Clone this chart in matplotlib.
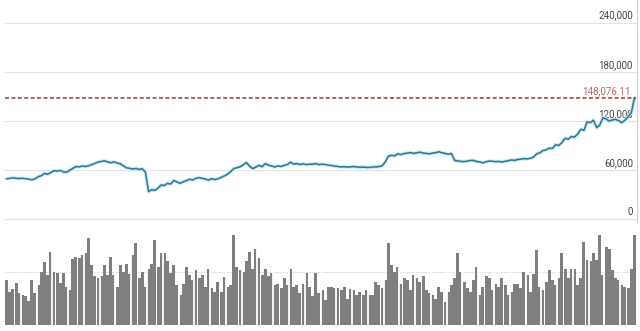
import matplotlib
matplotlib.use("Agg")
import matplotlib.pyplot as plt
import numpy as np

# ---- data ----
price_k = [
    49.6, 50.1, 50.8, 50.2, 49.9, 50.3, 49.8, 49.2, 48.4, 49.5,
    52.0, 53.4, 56.0, 55.2, 57.1, 59.5, 58.9, 59.8, 58.0, 57.6,
    60.0, 62.3, 64.5, 64.0, 65.1, 64.6, 65.5, 66.8, 68.4, 70.0,
    70.6, 71.5, 70.2, 69.0, 70.3, 68.9, 68.0, 65.4, 63.0, 62.4,
    61.5, 62.2, 61.0, 61.8, 58.0, 34.0, 36.2, 35.5, 38.4, 42.0,
    41.5, 44.0, 43.2, 47.5, 45.8, 44.0, 46.0, 47.3, 49.0, 48.2,
    50.1, 51.0, 50.2, 49.3, 48.0, 49.6, 48.8, 49.5, 51.2, 53.0,
    55.0, 58.3, 62.0, 63.0, 64.2, 66.5, 69.5, 65.0, 62.0, 63.8,
    66.0, 64.3, 68.0, 66.2, 65.1, 64.0, 65.3, 64.6, 66.0, 67.0,
    69.8, 67.5, 68.1, 67.0, 67.8, 66.9, 67.4, 67.5, 68.0, 66.8,
    67.3, 67.0, 66.2, 65.8, 65.0, 64.6, 64.0, 64.4, 63.8, 64.2,
    64.5, 64.0, 63.6, 63.9, 63.4, 63.5, 63.8, 64.2, 64.5, 65.3,
    70.0, 77.0, 78.2, 77.5, 80.0, 79.1, 80.3, 80.8, 81.5, 80.6,
    81.2, 82.0, 81.0, 80.5, 80.0, 80.9, 81.4, 82.5, 81.3, 80.6,
    79.5, 80.5, 72.0, 71.4, 70.8, 70.5, 71.2, 71.9, 72.0, 70.6,
    70.1, 69.0, 70.3, 71.2, 71.0, 70.4, 70.8, 70.0, 70.9, 71.6,
    72.5, 72.0, 73.1, 73.5, 74.2, 73.8, 74.5, 76.0, 80.0, 81.2,
    84.0, 84.8, 87.0, 86.5, 91.0, 90.2, 93.5, 99.0, 97.8, 101.0,
    100.5, 104.0, 110.0, 108.5, 119.0, 118.0, 121.0, 112.0, 115.0, 124.0,
    122.5, 120.0, 121.3, 122.0, 120.5, 118.0, 121.0, 125.0, 130.0, 148.07611,
]

volume = [
    42, 31, 34, 40, 30,   28, 27, 23, 42, 30,   38, 50, 59, 47, 69,   50, 49, 40, 49, 36,
    33, 62, 64, 63, 66,   68, 82, 57, 46, 44,   46, 57, 47, 64, 47,   36, 57, 50, 58, 48,
    66, 77, 44, 50, 36,   53, 58, 80, 55, 68,   68, 60, 49, 57, 38,   28, 39, 55, 47, 42,
    52, 44, 47, 36, 53,   35, 31, 41, 31, 45,   36, 38, 85, 55, 52,   50, 60, 69, 53, 72,
    63, 47, 53, 46, 49,   38, 39, 35, 44, 38,   53, 36, 38, 30, 39,   49, 36, 27, 49, 30,
    33, 24, 36, 36, 35,   35, 33, 36, 25, 34,   33, 28, 31, 28, 33,   28, 28, 41, 38, 35,
    42, 77, 57, 50, 55,   39, 44, 42, 33, 47,   44, 41, 46, 33, 30,   28, 25, 36, 31, 22,
    31, 38, 44, 68, 50,   41, 35, 31, 42, 55,   28, 36, 46, 44, 33,   39, 36, 44, 38, 28,
    31, 39, 39, 35, 50,   47, 31, 48, 71, 36,   33, 41, 52, 42, 38,   44, 68, 53, 44, 53,
    53, 38, 44, 78, 61,   60, 68, 61, 85, 47,   74, 72, 52, 44, 42,   38, 36, 35, 53, 85,
]

price_ticks = [0, 60000, 120000, 180000, 240000]
price_tick_labels = ["0", "60,000", "120,000", "180,000", "240,000"]
ref_value = 148076.11
ref_label = "148,076.11"
vol_grid = [50]

# ---- figure ----
W, H = 640, 331
fig = plt.figure(figsize=(W / 100, H / 100), dpi=100)
plt.rcParams["font.family"] = ["Roboto", "DejaVu Sans"]

x0, x1 = 5, 636
def fx(px):
    return px / W
def fy(py):
    return 1 - py / H

ax = fig.add_axes([fx(x0), fy(222), fx(x1 - x0), 222 / H])
axv = fig.add_axes([fx(x0), fy(325), fx(x1 - x0), (325 - 222) / H])

n = len(price_k)
idx = np.arange(n)
price = np.array(price_k) * 1000.0

for a in (ax, axv):
    a.set_xlim(-0.5, n - 0.5)
    for s in a.spines.values():
        s.set_visible(False)
    a.set_xticks([])
    a.set_yticks([])
    a.patch.set_alpha(0)

ax.set_ylim(-3046, 267417)

for v, lab in zip(price_ticks, price_tick_labels):
    ax.axhline(v, color="#e3e3e3", lw=0.8, zorder=1, clip_on=False)
    ax.annotate(lab, xy=(0.9952, v), xycoords=("axes fraction", "data"),
                xytext=(0, 2), textcoords="offset pixels",
                ha="right", va="bottom", fontsize=7, color="#444444", zorder=2)

ax.plot(idx, price, color="#cdeaf2", lw=2.6, zorder=3, solid_capstyle="round")
ax.plot(idx, price, color="#2b7a96", lw=1.15, zorder=4)

ax.axhline(ref_value, color="#a83232", lw=1.1, linestyle=(0, (2.6, 1.6)), zorder=5)
ax.annotate(ref_label, xy=(0.991, ref_value), xycoords=("axes fraction", "data"),
            xytext=(0, 2), textcoords="offset pixels",
            ha="right", va="bottom", fontsize=7, color="#b46a6a", zorder=6)

axv.set_ylim(0, 97.2)
for g in vol_grid:
    axv.axhline(g, color="#e6e6e6", lw=0.8, zorder=0)
axv.bar(idx, volume, width=0.95, color="#7f7f7f", edgecolor="none", zorder=2)
for k in range(5, n, 5):
    axv.axvline(k - 0.5, color="white", lw=1.3, zorder=3)

fig.add_artist(plt.Line2D([fx(636.5), fx(636.5)], [fy(0), fy(222)],
                          color="#cfcfcf", lw=0.8))

fig.savefig("out.png", dpi=100)
